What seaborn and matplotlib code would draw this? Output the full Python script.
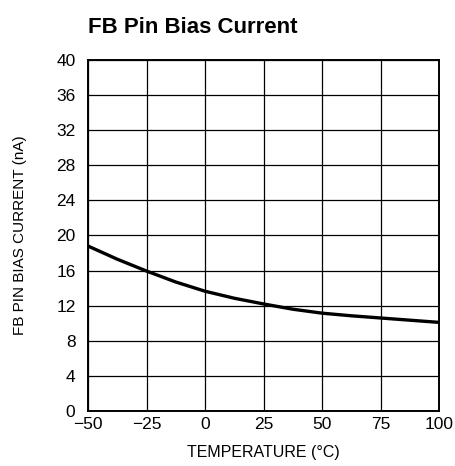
import matplotlib
matplotlib.use("Agg")
import matplotlib.pyplot as plt
import seaborn as sns
import pandas as pd

temperature = [-50, -37.5, -25, -12.5, 0, 12.5, 25, 37.5, 50, 62.5, 75, 87.5, 100]
bias_current = [18.8, 17.3, 15.95, 14.7, 13.65, 12.85, 12.2, 11.6, 11.15, 10.85, 10.6, 10.35, 10.1]
x_ticks = [-50, -25, 0, 25, 50, 75, 100]
x_tick_labels = ["\u221250", "\u221225", "0", "25", "50", "75", "100"]
y_ticks = [0, 4, 8, 12, 16, 20, 24, 28, 32, 36, 40]

sns.set_style("white")
plt.rcParams['font.family'] = ['Liberation Sans Narrow', 'Liberation Sans', 'DejaVu Sans']
plt.rcParams['text.color'] = 'black'
plt.rcParams['axes.labelcolor'] = 'black'
plt.rcParams['xtick.color'] = 'black'
plt.rcParams['ytick.color'] = 'black'

df = pd.DataFrame({"temp": temperature, "current": bias_current})

fig = plt.figure(figsize=(4.55, 4.66), dpi=100)
ax = fig.add_axes([88/455, 55/466, 351/455, 351/466])

sns.lineplot(data=df, x="temp", y="current", ax=ax, color="black", linewidth=2.4)

ax.set_xlim(-50, 100)
ax.set_ylim(0, 40)
ax.set_xticks(x_ticks)
ax.set_xticklabels(x_tick_labels)
ax.set_yticks(y_ticks)
ax.grid(True, color="black", linewidth=0.9)
ax.tick_params(axis="x", length=0, labelsize=12.5, pad=4, colors="black")
ax.tick_params(axis="y", length=0, labelsize=12.5, pad=9, colors="black")
for s in ax.spines.values():
    s.set_color("black")
    s.set_linewidth(1.4)

ax.set_xlabel("TEMPERATURE (\u00b0C)", fontsize=11.5, labelpad=10, color="black")
ax.set_ylabel("FB PIN BIAS CURRENT (nA)", fontsize=11, labelpad=21, color="black")

fig.text(88/455, 1 - 33/466, "FB Pin Bias Current", fontsize=16, fontweight="bold",
         ha="left", va="baseline", color="black")

fig.savefig("out.png", dpi=100)
